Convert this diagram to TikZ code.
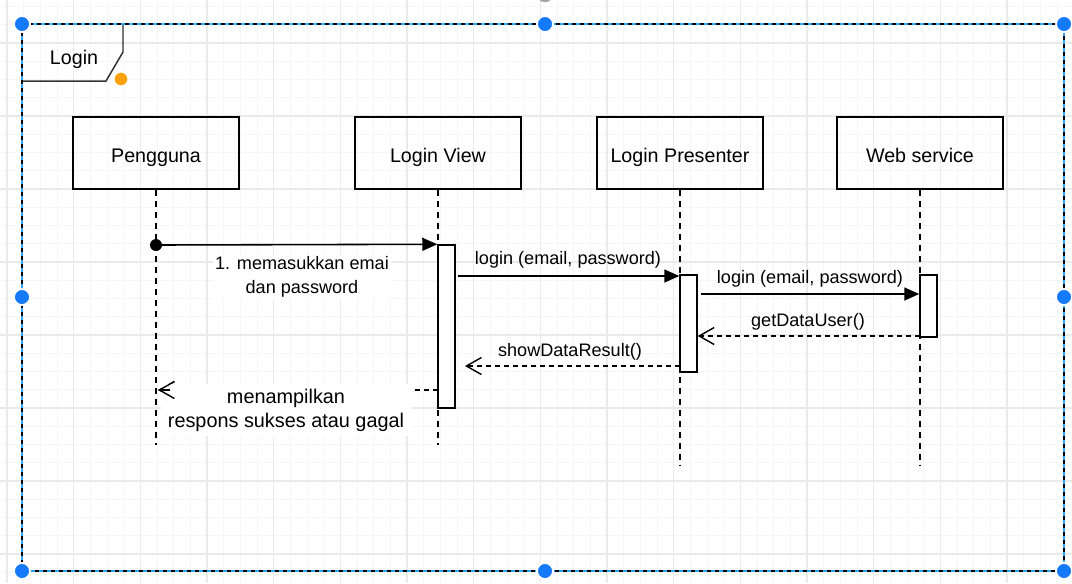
\documentclass[tikz,border=0pt]{standalone}
\usepackage{fontspec}
\setmainfont{Liberation Sans}
\usetikzlibrary{positioning, arrows.meta}

\definecolor{gridminor}{HTML}{F6F6F6}
\definecolor{gridmajor}{HTML}{EAEAEA}
\definecolor{selblue}{HTML}{29A8F5}
\definecolor{handleblue}{HTML}{1479FA}
\definecolor{handleorange}{HTML}{FFA20A}
\definecolor{framegray}{HTML}{333333}

\begin{document}
\begin{tikzpicture}[x=0.02cm, y=-0.02cm]
        % pixel based coordinates, y going down
        \tikzstyle{head}=[draw, line width=0.85pt, minimum width=3.32cm, minimum height=1.44cm, text height=11pt, text depth=0pt, font=\fontsize{11.2}{13}\selectfont]
        \tikzstyle{act}=[draw, fill=white, line width=0.85pt, minimum width=0.34cm, inner sep=0pt]
        \tikzstyle{life}=[line width=0.8pt, dash pattern=on 0.12cm off 0.1cm]
        \tikzstyle{sync}=[line width=0.9pt, -{Triangle[length=0.3cm, width=0.26cm]}]
        \tikzstyle{ret}=[line width=0.8pt, dash pattern=on 0.1cm off 0.08cm, -{Straight Barb[length=0.3cm, width=0.34cm, line width=0.8pt]}]
        \tikzstyle{lbl}=[font=\fontsize{10.3}{13.6}\selectfont, align=center, inner sep=1pt]
        \tikzstyle{handle}=[circle, fill=handleblue, draw=white, line width=1pt, minimum size=0.32cm, inner sep=0pt]

        \useasboundingbox (0,0) rectangle (1072,583);
        \fill[white] (0,0) rectangle (1072,583);

        % grid
        \foreach \i in {0,...,64} {
          \draw[gridminor, line width=0.5pt] ({7+16.667*\i},0) -- ({7+16.667*\i},583);
        }
        \foreach \i in {0,...,32} {
          \draw[gridminor, line width=0.5pt] (0,{6.5+18.25*\i}) -- (1072,{6.5+18.25*\i});
        }
        \foreach \i in {0,...,16} {
          \draw[gridmajor, line width=0.6pt] ({7+66.667*\i},0) -- ({7+66.667*\i},583);
        }
        \foreach \i in {0,...,7} {
          \draw[gridmajor, line width=0.6pt] (0,{43+73*\i}) -- (1072,{43+73*\i});
        }

        % frame label
        \draw[framegray, line width=0.85pt] (22,24) -- (123,24) -- (123,52) -- (106,81) -- (22,81);
        \node[font=\fontsize{11.2}{13}\selectfont, text height=11pt, text depth=0pt] (title) at (74,55) {Login};

        % lifeline heads
        \node[head] (pg) at (156,153) {Pengguna};
        \node[head] (lv) at (438,153) {Login View};
        \node[head] (pr) at (680,153) {Login Presenter};
        \node[head] (ws) at (920,153) {Web service};

        \coordinate (pgend) at (156,445);
        \coordinate (lvend) at (438,445);
        \coordinate (prend) at (680,465);
        \coordinate (wsend) at (920,465);

        \draw[life] (pg) -- (pgend);
        \draw[life] (lv) -- (lvend);
        \draw[life] (pr) -- (prend);
        \draw[life] (ws) -- (wsend);

        % activations
        \node[act, minimum height=3.26cm] (lvact) at (446.5,326.5) {};
        \node[act, minimum height=1.94cm] (pract) at (688.5,323.5) {};
        \node[act, minimum height=1.24cm] (wsact) at (928.5,306) {};

        % messages
        \node[circle, fill=black, minimum size=0.24cm, inner sep=0pt] (dot1) at (156,245) {};
        \draw[sync] (dot1.center) -- (lvact.north west);
        \node[lbl, fill=white] (m1) at (302,277) {1. memasukkan emai\\dan password};

        \coordinate (m2s) at (458,276);
        \draw[sync] (m2s) -- (pract.west |- m2s);
        \node[lbl] (m2) at (568,260) {login (email, password)};

        \coordinate (m3s) at (701,294);
        \draw[sync] (m3s) -- (wsact.west |- m3s);
        \node[lbl] (m3) at (810,279) {login (email, password)};

        \coordinate (m4s) at (920,336);
        \draw[ret] (m4s) -- (pract.east |- m4s);
        \node[lbl] (m4) at (808,322) {getDataUser()};

        \coordinate (m5s) at (680,366);
        \coordinate (m5e) at (465,366);
        \draw[ret] (m5s) -- (m5e);
        \node[lbl] (m5) at (570,352) {showDataResult()};

        \coordinate (m6s) at (438,390);
        \coordinate (m6e) at (158,390);
        \coordinate (m6t) at (170,390);
        \draw[ret] (m6s) -- (m6e);
        \node[lbl, fill=white, inner xsep=4pt, inner ysep=3pt, font=\fontsize{11.3}{13.6}\selectfont] (m6) at (286,410) {menampilkan\\respons sukses atau gagal};
        \draw[ret, solid] (m6t) -- (m6e);

        % selection overlay
        \draw[selblue, line width=1.1pt] (22,24) rectangle (1064,571);
        \draw[black, line width=1.1pt, dash pattern=on 0.08cm off 0.08cm] (22,24) rectangle (1064,571);
        \node[circle, fill=gray!70, minimum size=0.3cm] (rot) at (545,-6) {};
        \foreach \p in {(22,24),(545,24),(1064,24),(22,297),(1064,297),(22,571),(545,571),(1064,571)} {
          \node[handle] at \p {};
        }
        \node[circle, fill=handleorange, draw=white, line width=1.2pt, minimum size=0.3cm, inner sep=0pt] (org) at (121,79) {};
      \end{tikzpicture}
\end{document}
